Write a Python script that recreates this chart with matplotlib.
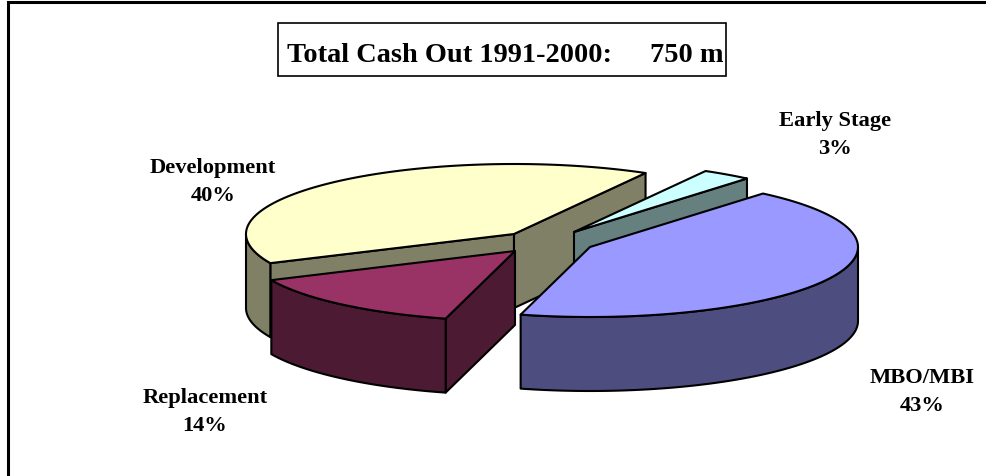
import numpy as np
from matplotlib import pyplot as plt
from matplotlib.colors import to_rgb
from matplotlib.patches import Polygon, Rectangle

labels = ['Early Stage', 'MBO/MBI', 'Replacement', 'Development']
shares = [3, 43, 14, 40]
top_colors = ['#CCFFFF', '#9999FF', '#993366', '#FFFFCC']

# layout in pixels of the picture
apex = [(574, 233), (590, 248), (515, 252), (514, 235)]
label_pos = [(835, 121), (922, 378), (205, 398), (213, 168)]
rx, ry = 268, 70
depth = 74
start_angle = 60.6
draw_order = [3, 0, 1, 2]
LW = 1.5

plt.rcParams['font.family'] = ['Liberation Serif']

fig = plt.figure(figsize=(9.87, 4.77), dpi=100)
ax = fig.add_axes([0, 0, 1, 1])
ax.set_xlim(0, 987)
ax.set_ylim(477, 0)
ax.axis('off')


def arc(cx, cy, a0, a1, n=120):
    t = np.radians(np.linspace(a0, a1, n))
    return np.column_stack([cx + rx * np.cos(t), cy - ry * np.sin(t)])


def poly(pts, color, z):
    ax.add_patch(Polygon(pts, closed=True, facecolor=color, edgecolor='black',
                         linewidth=LW, joinstyle='round', zorder=z))


# angles go clockwise from the start angle, one slice after the other
sweeps = np.array(shares) / sum(shares) * 360
ends = start_angle - np.cumsum(sweeps)
starts = ends + sweeps

z = 1
for i in draw_order:
    cx, cy = apex[i]
    a0, a1 = starts[i], ends[i]
    dark = tuple(np.array(to_rgb(top_colors[i])) * 0.5)
    down = np.array([0, depth])
    centre = np.array([cx, cy])

    # cut faces, only those that turn towards the viewer
    if np.cos(np.radians(a0)) < 0:
        p = arc(cx, cy, a0, a0, 1)[0]
        poly([centre, p, p + down, centre + down], dark, z)
        z += 1
    if np.cos(np.radians(a1)) > 0:
        p = arc(cx, cy, a1, a1, 1)[0]
        poly([centre, p, p + down, centre + down], dark, z)
        z += 1

    # outer wall, only the part of the arc on the lower half
    t = np.linspace(a0, a1, 400)
    front = t[np.sin(np.radians(t)) < 0]
    if len(front) > 1:
        edge = arc(cx, cy, front[0], front[-1], len(front))
        poly(np.vstack([edge, edge[::-1] + down]), dark, z)
        z += 1

    poly(np.vstack([[centre], arc(cx, cy, a0, a1)]), top_colors[i], z)
    z += 1

for name, share, pos in zip(labels, shares, label_pos):
    ax.text(pos[0], pos[1], name, ha='center', va='center', fontsize=16.2,
            fontweight='bold', zorder=50)
    ax.text(pos[0], pos[1] + 28, f'{share}%', ha='center', va='center', fontsize=16.2,
            fontweight='bold', zorder=50)

# title box
ax.add_patch(Rectangle((278, 24), 448, 53, facecolor='white', edgecolor='black',
                       linewidth=1.2, zorder=40))
ax.text(287, 56, 'Total Cash Out 1991-2000:', ha='left', va='center', fontsize=20.4,
        fontweight='bold', zorder=50)
ax.text(723, 56, '750 m', ha='right', va='center', fontsize=20.4,
        fontweight='bold', zorder=50)

# outer frame, open on the right and at the bottom
ax.plot([987, 7.5, 7.5], [3, 3, 477], color='black', linewidth=2.2,
        solid_joinstyle='miter', zorder=60)

fig.savefig('out.png', dpi=100)
